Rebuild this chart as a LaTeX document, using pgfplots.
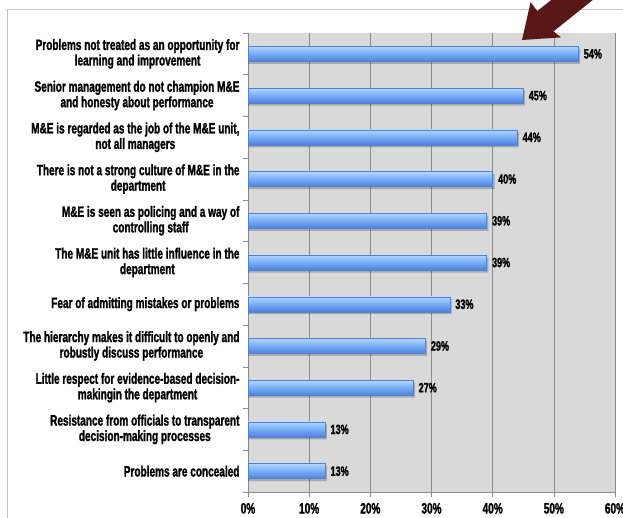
\documentclass[border=0pt]{standalone}
\usepackage{fontspec}
\setmainfont{Liberation Sans}[FakeStretch=0.67, FakeBold=1.4]
\usepackage{pgfplots}
\pgfplotsset{compat=1.18}

\definecolor{plotbg}{RGB}{217,217,217}
\definecolor{gridc}{RGB}{140,140,140}
\definecolor{barline}{RGB}{80,128,215}
\definecolor{bartop}{RGB}{178,215,255}
\definecolor{barmid}{RGB}{118,172,246}
\definecolor{barbot}{RGB}{78,128,218}
\definecolor{arrowc}{RGB}{88,24,24}
\definecolor{framec}{RGB}{195,195,195}

\newcommand\lbl{\fontsize{15}{15.5}\selectfont\bfseries}

\begin{document}
\begin{tikzpicture}[x=1pt,y=1pt]
\useasboundingbox (0,0) rectangle (623,517);
\draw[framec] (7.5,-20) -- (7.5,507.5) -- (640,507.5);
\begin{axis}[
    at={(248pt,25pt)}, anchor=south west,
    scale only axis, width=367pt, height=459pt,
    xbar, bar width=15pt, bar shift=0pt,
    xmin=0, xmax=60, ymin=-0.5, ymax=10.5,
    axis x line*=bottom, axis y line*=left,
    axis line style={draw=gridc},
    axis background/.style={fill=plotbg},
    xtick={0,10,...,60},
    xticklabels={0\%,10\%,20\%,30\%,40\%,50\%,60\%},
    minor xtick={0,10,...,60},
    xmajorgrids, grid style={gridc, line width=0.6pt},
    ytick={0,...,10},
    minor ytick={-0.5,0.5,...,10.5},
    tick align=outside,
    major tick length=0pt, minor tick length=5pt,
    tick style={draw=gridc, line width=0.6pt},
    xticklabel style={font=\lbl, yshift=-7.5pt},
    yticklabel style={font=\lbl, align=center, xshift=-5pt},
    yticklabels={
        {Problems are concealed},
        {Resistance from officials to transparent\\decision-making processes},
        {Little respect for evidence-based decision-\\makingin the department},
        {The hierarchy makes it difficult to openly and\\robustly discuss performance},
        {Fear of admitting mistakes or problems},
        {The M\&E unit has little influence in the\\department},
        {M\&E is seen as policing and a way of\\controlling staff},
        {There is not a strong culture of M\&E in the\\department},
        {M\&E is regarded as the job of the M\&E unit,\\not all managers},
        {Senior management do not champion M\&E\\and honesty about performance},
        {Problems not treated as an opportunity for\\learning and improvement}},
    point meta=explicit symbolic,
    shadowbar/.style={draw=none, fill=black, fill opacity=0.22, bar shift=-2.5pt},
    mybar/.style={draw=barline, line width=0.4pt, top color=bartop, bottom color=barbot, middle color=barmid,
        nodes near coords,
        every node near coord/.append style={font=\fontsize{13.5}{15}\selectfont\bfseries, anchor=west, xshift=2pt}},
]
% soft shadow under the bars
\addplot[shadowbar] coordinates {
    (12.9,0) (12.9,1) (27.3,2) (29.3,3) (33.3,4) (39.3,5)
    (39.3,6) (40.3,7) (44.3,8) (45.3,9) (54.3,10)
};
% bars, one plot each so that every bar gets its own shading
\addplot[mybar] coordinates {(12.6,0) [13\%]};
\addplot[mybar] coordinates {(12.6,1) [13\%]};
\addplot[mybar] coordinates {(27,2) [27\%]};
\addplot[mybar] coordinates {(29,3) [29\%]};
\addplot[mybar] coordinates {(33,4) [33\%]};
\addplot[mybar] coordinates {(39,5) [39\%]};
\addplot[mybar] coordinates {(39,6) [39\%]};
\addplot[mybar] coordinates {(40,7) [40\%]};
\addplot[mybar] coordinates {(44,8) [44\%]};
\addplot[mybar] coordinates {(45,9) [45\%]};
\addplot[mybar] coordinates {(54,10) [54\%]};
\end{axis}
\fill[arrowc] (522,477) -- (530.6,514.9) -- (537.3,505.9) -- (599.7,555.9)
    -- (615.9,535.6) -- (553.5,485.6) -- (561.1,479.6) -- cycle;
\end{tikzpicture}
\end{document}
